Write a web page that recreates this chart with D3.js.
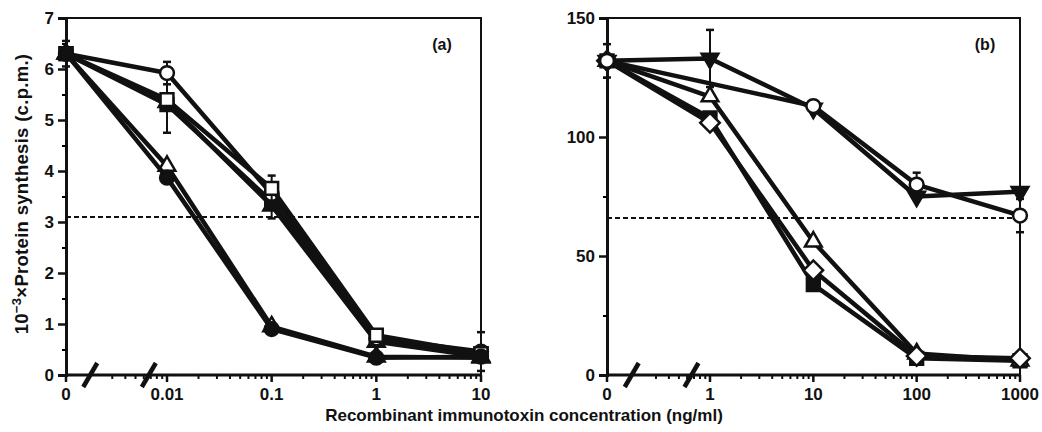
<!DOCTYPE html>
<html lang="en">
<head>
<meta charset="UTF-8">
<title>Protein synthesis vs immunotoxin concentration</title>
<style>
  body { margin: 0; background: #fff; }
  svg { display: block; }
  text { font-family: "Liberation Sans", Arial, sans-serif; font-weight: bold; fill: #111; }
  .tick-label { font-size: 17px; }
  .tag { font-size: 16px; }
  .title { font-size: 17px; }
  .ytitle { font-size: 18.5px; letter-spacing: 0.3px; }
</style>
</head>
<body>
<svg width="1042" height="432"></svg>
<script src="https://cdn.jsdelivr.net/npm/d3@7"></script>
<script>
// ---- data ----
var concA = [0, 0.01, 0.1, 1, 10];
var concB = [0, 1, 10, 100, 1000];

// panel (a): 10^-3 x c.p.m.
var openCircleA     = [6.3, 5.92, 3.55, 0.72, 0.46];
var openCircleErrA  = [0.25, 0.22, 0, 0, 0.38];
var filledSquareA   = [6.3, 5.3, 3.4, 0.72, 0.42];
var filledSquareErrA = [0, 0.55, 0, 0, 0];
var openSquareA     = [6.3, 5.4, 3.66, 0.78, 0.42];
var openSquareErrA  = [0, 0, 0.25, 0, 0];
var filledTriA      = [6.3, 5.35, 3.32, 0.65, 0.36];
var filledTriErrA   = [0, 0, 0.25, 0, 0];
var openTriA        = [6.3, 4.1, 0.95, 0.36, 0.34];
var filledCircleA   = [6.3, 3.87, 0.9, 0.34, 0.36];
var thresholdA = 3.1;

// panel (b)
var filledInvTriB    = [132, 133, 112, 75, 77];
var filledInvTriErrB = [0, 12, 0, 0, 0];
var openCircleB      = [132, null, 113, 80, 67];
var openCircleErrB   = [7, 0, 0, 5, 7];
var openTriB         = [132, 117, 56, 9, 6];
var filledSquareB    = [132, 108, 38, 7, 6];
var openDiamondB     = [132, 106, 44, 8, 7];
var thresholdB = 66;

var yTicksA = [0, 1, 2, 3, 4, 5, 6, 7];
var yTicksB = [0, 50, 100, 150];
var xTickLabelsA = ["0", "0.01", "0.1", "1", "10"];
var xTickLabelsB = ["0", "1", "10", "100", "1000"];

var svg = d3.select("svg");

// x scale: zero at the axis origin, log for the rest
function makeX(left, firstPos, right, dmin, dmax) {
  var lg = d3.scaleLog().domain([dmin, dmax]).range([firstPos, right]);
  var f = function(v) { return v === 0 ? left : lg(v); };
  f.log = lg;
  f.left = left;
  return f;
}

function symbolPath(kind) {
  var map = {
    circle: [d3.symbolCircle, 150, 0],
    square: [d3.symbolSquare, 165, 0],
    tri: [d3.symbolTriangle, 120, 0],
    invtri: [d3.symbolTriangle, 120, 180],
    diamond: [d3.symbolSquare, 190, 45]
  };
  return map[kind];
}

function drawPanel(cfg) {
  var x = cfg.x, y = cfg.y;
  var g = svg.append("g");
  var top = y.range()[1], bottom = y.range()[0], left = x.left, right = x.log.range()[1];

  // frame top/right
  g.append("path")
    .attr("d", "M" + left + "," + top + "H" + right + "V" + bottom)
    .attr("fill", "none").attr("stroke", "#111").attr("stroke-width", 2);

  // dashed 50% line
  g.append("line")
    .attr("x1", left).attr("x2", right)
    .attr("y1", y(cfg.threshold)).attr("y2", y(cfg.threshold))
    .attr("stroke", "#111").attr("stroke-width", 2).attr("stroke-dasharray", "5,3");

  // y axis
  var yAxis = d3.axisLeft(y).tickValues(cfg.yTicks).tickSize(8).tickPadding(4).tickFormat(d3.format("d"));
  var ya = g.append("g").attr("transform", "translate(" + left + ",0)").call(yAxis);
  ya.attr("font-family", null).attr("font-size", null);
  ya.select(".domain").attr("stroke-width", 3).attr("stroke", "#111");
  ya.selectAll(".tick line").attr("stroke-width", 2.5).attr("stroke", "#111");
  ya.selectAll(".tick text").attr("class", "tick-label");
  var yMinor = d3.axisLeft(y).tickValues(cfg.yMinor).tickSize(4).tickFormat("");
  g.append("g").attr("transform", "translate(" + left + ",0)").call(yMinor)
    .call(function(s) { s.select(".domain").remove(); s.selectAll("line").attr("stroke-width", 2); });

  // x axis
  g.append("line").attr("x1", left).attr("x2", right).attr("y1", bottom).attr("y2", bottom)
    .attr("stroke", "#111").attr("stroke-width", 3);
  var majors = g.selectAll(".xmaj").data(cfg.conc).enter().append("g")
    .attr("transform", function(d) { return "translate(" + x(d) + "," + bottom + ")"; });
  majors.append("line").attr("y1", 0).attr("y2", 7).attr("stroke", "#111").attr("stroke-width", 2.5);
  majors.append("text").attr("class", "tick-label").attr("y", 25).attr("text-anchor", "middle")
    .text(function(d, i) { return cfg.xLabels[i]; });

  // log minor ticks (including the visible part of the decade before the first label)
  var first = x.log.domain()[0], minors = [];
  for (var dec = first / 10; dec < x.log.domain()[1]; dec *= 10) {
    for (var m = 2; m <= 9; m++) {
      var v = dec * m;
      if (dec < first) { if (m < 3) continue; minors.push(x.log(v)); }
      else minors.push(x(v));
    }
  }
  g.selectAll(".xmin").data(minors).enter().append("line")
    .attr("x1", function(d) { return d; }).attr("x2", function(d) { return d; })
    .attr("y1", bottom).attr("y2", bottom + 4).attr("stroke", "#111").attr("stroke-width", 2);

  // axis breaks
  var span = x.log.range()[0] - left;
  [0.24, 0.82].forEach(function(f) {
    var bx = left + f * span;
    g.append("line").attr("x1", bx - 7).attr("y1", bottom + 12).attr("x2", bx + 7).attr("y2", bottom - 12)
      .attr("stroke", "#111").attr("stroke-width", 4.5);
  });

  // series
  var line = d3.line()
    .x(function(d) { return x(d[0]); }).y(function(d) { return y(d[1]); });
  cfg.series.forEach(function(s) {
    var pts = cfg.conc.map(function(c, i) { return [c, s.values[i], s.err ? s.err[i] : 0]; })
      .filter(function(p) { return p[1] != null; });
    var sg = g.append("g");
    sg.append("path").datum(pts).attr("d", line).attr("fill", "none")
      .attr("stroke", "#111").attr("stroke-width", 4.5).attr("stroke-linejoin", "round");
    var eb = sg.selectAll(".eb").data(pts.filter(function(p) { return p[2] > 0; })).enter().append("g");
    eb.append("line")
      .attr("x1", function(p) { return x(p[0]); }).attr("x2", function(p) { return x(p[0]); })
      .attr("y1", function(p) { return y(p[1] - p[2]); }).attr("y2", function(p) { return y(p[1] + p[2]); })
      .attr("stroke", "#111").attr("stroke-width", 2);
    [-1, 1].forEach(function(sgn) {
      eb.append("line")
        .attr("x1", function(p) { return x(p[0]) - 4; }).attr("x2", function(p) { return x(p[0]) + 4; })
        .attr("y1", function(p) { return y(p[1] + sgn * p[2]); }).attr("y2", function(p) { return y(p[1] + sgn * p[2]); })
        .attr("stroke", "#111").attr("stroke-width", 2.5);
    });
    var sp = symbolPath(s.shape);
    sg.selectAll(".mk").data(pts).enter().append("path")
      .attr("d", d3.symbol().type(sp[0]).size(sp[1]))
      .attr("transform", function(p) { return "translate(" + x(p[0]) + "," + y(p[1]) + ") rotate(" + sp[2] + ")"; })
      .attr("fill", s.filled ? "#111" : "#fff")
      .attr("stroke", "#111").attr("stroke-width", 2.5);
  });

  g.append("text").attr("class", "tag").attr("x", cfg.tagX).attr("y", 50)
    .attr("text-anchor", "middle").text(cfg.tag);
}

var yA = d3.scaleLinear().domain([0, 7]).range([375, 18]);
var xA = makeX(66, 167, 481, 0.01, 10);
drawPanel({
  x: xA, y: yA, conc: concA, xLabels: xTickLabelsA, yTicks: yTicksA,
  yMinor: d3.range(0.5, 7, 1), threshold: thresholdA, tag: "(a)", tagX: 442,
  series: [
    { values: openTriA, shape: "tri", filled: false },
    { values: filledTriA, err: filledTriErrA, shape: "tri", filled: true },
    { values: filledSquareA, err: filledSquareErrA, shape: "square", filled: true },
    { values: openCircleA, err: openCircleErrA, shape: "circle", filled: false },
    { values: openSquareA, err: openSquareErrA, shape: "square", filled: false },
    { values: filledCircleA, shape: "circle", filled: true }
  ]
});

var yB = d3.scaleLinear().domain([0, 150]).range([375, 18]);
var xB = makeX(607, 710, 1020, 1, 1000);
drawPanel({
  x: xB, y: yB, conc: concB, xLabels: xTickLabelsB, yTicks: yTicksB,
  yMinor: [25, 75, 125], threshold: thresholdB, tag: "(b)", tagX: 985,
  series: [
    { values: filledSquareB, shape: "square", filled: true },
    { values: openTriB, shape: "tri", filled: false },
    { values: openDiamondB, shape: "diamond", filled: false },
    { values: filledInvTriB, err: filledInvTriErrB, shape: "invtri", filled: true },
    { values: openCircleB, err: openCircleErrB, shape: "circle", filled: false }
  ]
});

// axis titles
svg.append("text").attr("class", "ytitle")
  .attr("transform", "translate(28,194) rotate(-90)").attr("text-anchor", "middle")
  .html('10<tspan dy="-7" font-size="13px">\u22123</tspan><tspan dy="7">\u00d7Protein synthesis (c.p.m.)</tspan>');
svg.append("text").attr("class", "title").attr("x", 524).attr("y", 421).attr("text-anchor", "middle")
  .text("Recombinant immunotoxin concentration (ng/ml)");
</script>
</body>
</html>
